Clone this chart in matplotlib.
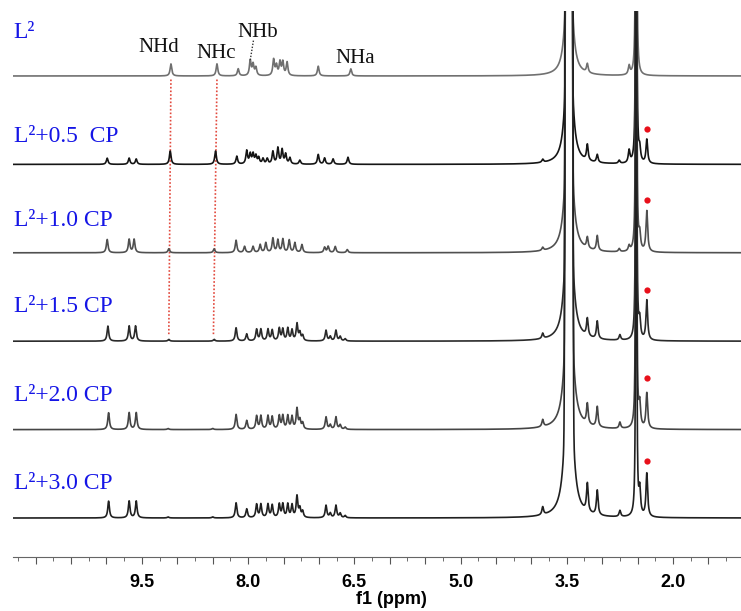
import numpy as np
import matplotlib
matplotlib.use('Agg')
from matplotlib import pyplot as plt
from matplotlib.ticker import MultipleLocator, FuncFormatter

# sample labels, top to bottom
labels = ['L²', 'L²+0.5  CP', 'L²+1.0 CP', 'L²+1.5 CP', 'L²+2.0 CP', 'L²+3.0 CP']
offsets = [5, 4, 3, 2, 1, 0]
label_y = [5.49, 4.31, 3.37, 2.39, 1.39, 0.385]
colors = ['#707070', '#151515', '#505050', '#2a2a2a', '#454545', '#202020']

# (shift, height); height in units of trace spacing
peaks_l2 = [(9.09, 0.136), (8.44, 0.136), (8.14, 0.08), (7.97, 0.17), (7.93, 0.125),
            (7.89, 0.09), (7.64, 0.18), (7.60, 0.11), (7.55, 0.15), (7.51, 0.15),
            (7.45, 0.15), (7.01, 0.11), (6.55, 0.08), (3.21, 0.10), (2.62, 0.10)]
peaks_05 = [(9.99, 0.07), (9.68, 0.07), (9.58, 0.06), (9.10, 0.15), (8.46, 0.15),
            (8.16, 0.09), (8.02, 0.15), (7.97, 0.11), (7.93, 0.11), (7.89, 0.09),
            (7.85, 0.07), (7.79, 0.06), (7.73, 0.06), (7.65, 0.14), (7.58, 0.18),
            (7.52, 0.16), (7.47, 0.11), (7.41, 0.07), (7.27, 0.045), (7.01, 0.11),
            (6.92, 0.07), (6.80, 0.06), (6.59, 0.08),
            (3.84, 0.035), (3.21, 0.18), (3.07, 0.09), (2.76, 0.035), (2.62, 0.14),
            (2.47, 0.14), (2.37, 0.27)]
peaks_10 = [(9.99, 0.15), (9.68, 0.15), (9.61, 0.15), (9.12, 0.045), (8.48, 0.045),
            (8.17, 0.14), (8.05, 0.07), (7.93, 0.07), (7.83, 0.09), (7.75, 0.11),
            (7.65, 0.16), (7.58, 0.14), (7.51, 0.15), (7.42, 0.14), (7.34, 0.11),
            (7.24, 0.09), (6.92, 0.06), (6.87, 0.07), (6.77, 0.07), (6.60, 0.035),
            (3.84, 0.035), (3.21, 0.125), (3.07, 0.17), (2.76, 0.035), (2.62, 0.06),
            (2.47, 0.17), (2.37, 0.46)]
peaks_15 = [(9.98, 0.17), (9.68, 0.17), (9.59, 0.17), (9.12, 0.02), (8.48, 0.02),
            (8.17, 0.15), (8.02, 0.08), (7.88, 0.13), (7.82, 0.13), (7.72, 0.13),
            (7.66, 0.12), (7.56, 0.14), (7.51, 0.13), (7.44, 0.14), (7.38, 0.12),
            (7.31, 0.19), (7.27, 0.09), (7.23, 0.06), (6.90, 0.12), (6.84, 0.05),
            (6.76, 0.12), (6.70, 0.05), (6.63, 0.025),
            (3.84, 0.06), (3.21, 0.20), (3.07, 0.20), (2.75, 0.06), (2.47, 0.20),
            (2.37, 0.45)]
peaks_20 = [(9.97, 0.19), (9.68, 0.19), (9.58, 0.19), (9.13, 0.012), (8.50, 0.012),
            (8.17, 0.17), (8.02, 0.10), (7.88, 0.15), (7.82, 0.15), (7.72, 0.15),
            (7.66, 0.14), (7.56, 0.15), (7.51, 0.15), (7.44, 0.15), (7.38, 0.14),
            (7.31, 0.23), (7.27, 0.10), (7.23, 0.07), (6.90, 0.14), (6.84, 0.05),
            (6.76, 0.14), (6.70, 0.05), (6.63, 0.025),
            (3.84, 0.08), (3.21, 0.23), (3.07, 0.23), (2.75, 0.07), (2.47, 0.25),
            (2.37, 0.40)]
peaks_30 = [(9.97, 0.19), (9.68, 0.19), (9.58, 0.19), (9.13, 0.012), (8.50, 0.012),
            (8.17, 0.17), (8.02, 0.10), (7.88, 0.15), (7.82, 0.15), (7.72, 0.15),
            (7.66, 0.14), (7.56, 0.15), (7.51, 0.15), (7.44, 0.15), (7.38, 0.14),
            (7.31, 0.24), (7.27, 0.10), (7.23, 0.07), (6.90, 0.14), (6.84, 0.05),
            (6.76, 0.14), (6.70, 0.05), (6.63, 0.025),
            (3.84, 0.09), (3.21, 0.32), (3.07, 0.28), (2.75, 0.07), (2.47, 0.28),
            (2.37, 0.49)]
all_peaks = [peaks_l2, peaks_05, peaks_10, peaks_15, peaks_20, peaks_30]

# solvent peaks run off the top of the frame
water_shift = 3.47
water_core = [0.011, 0.012, 0.0125, 0.013, 0.014, 0.015]
water_tail = [0.003, 0.0035, 0.004, 0.0045, 0.005, 0.0055]
dmso_shift = 2.52

# red marker above the CP signal
dot_shift = 2.37
dot_height = [None, 0.40, 0.60, 0.58, 0.58, 0.64]

tick_values = [9.5, 8.0, 6.5, 5.0, 3.5, 2.0]
tick_text = ['9.5', '8.0', '6.5', '5.0', '3.5', '2.0']

ppm = np.linspace(11.32, 1.04, 30000)


def lorentz(center, height, width):
    return height * width ** 2 / ((ppm - center) ** 2 + width ** 2)


def build_trace(i):
    y = np.zeros_like(ppm)
    for shift, h in all_peaks[i]:
        y += lorentz(shift, h, 0.014)
    # water: tall gaussian core plus lorentzian skirt
    y += 1e4 * np.exp(-0.5 * ((ppm - water_shift) / water_core[i]) ** 2)
    y += lorentz(water_shift, 3.0, np.sqrt(water_tail[i] / 3.0))
    y += lorentz(dmso_shift, 30.0, 0.003)
    return y


fig = plt.figure(figsize=(7.41, 6.11), dpi=100)
ax = fig.add_axes([13 / 741, 54 / 611, 728 / 741, 546 / 611])

for i in range(len(all_peaks)):
    y = build_trace(i) + offsets[i]
    ax.plot(ppm, y, color=colors[i], lw=1.2, zorder=2 + i * 0.1)
    if dot_height[i] is not None:
        ax.plot(dot_shift, offsets[i] + dot_height[i], 'o', color='#e8101a',
                ms=4.5, mec='none', zorder=5)
    ax.text(11.31, label_y[i], labels[i], color='#1515e6', fontsize=17,
            family='Liberation Serif', va='center', ha='left')

# red guides following NHd and NHc
ax.plot([9.09, 9.12], [4.96, 2.06], color='#e2483c', lw=1.2, ls=(0, (1, 1.2)), zorder=1)
ax.plot([8.44, 8.49], [4.96, 2.06], color='#e2483c', lw=1.2, ls=(0, (1, 1.2)), zorder=1)

nh_font = dict(fontsize=15, family='Liberation Serif', color='#111111', ha='center', va='center')
ax.text(9.26, 5.32, 'NHd', **nh_font)
ax.text(8.455, 5.25, 'NHc', **nh_font)
ax.text(7.86, 5.49, 'NHb', **nh_font)
ax.text(6.49, 5.20, 'NHa', **nh_font)
ax.plot([7.925, 7.97], [5.40, 5.18], color='#333333', lw=1, ls=(0, (1, 1.2)))

ax.set_xlim(11.32, 1.04)
ax.set_ylim(-0.441, 5.735)
for side in ['top', 'left', 'right']:
    ax.spines[side].set_visible(False)
ax.spines['bottom'].set_color('#666666')
ax.set_yticks([])
ax.xaxis.set_major_locator(MultipleLocator(0.5))
ax.xaxis.set_minor_locator(MultipleLocator(0.25))


def fmt(v, pos):
    for t, s in zip(tick_values, tick_text):
        if abs(v - t) < 1e-6:
            return s
    return ''


ax.xaxis.set_major_formatter(FuncFormatter(fmt))
ax.tick_params(axis='x', which='major', length=5, color='#555555', pad=7,
               labelsize=13)
ax.tick_params(axis='x', which='minor', length=3, color='#555555')
for lab in ax.get_xticklabels():
    lab.set_fontweight('bold')
    lab.set_family('Liberation Sans')
ax.set_xlabel('f1 (ppm)', fontsize=13, fontweight='bold', family='Liberation Sans',
              labelpad=-2)
ax.xaxis.set_label_coords((391 - 13) / 728, -0.063)

fig.savefig('out.png', dpi=100)
